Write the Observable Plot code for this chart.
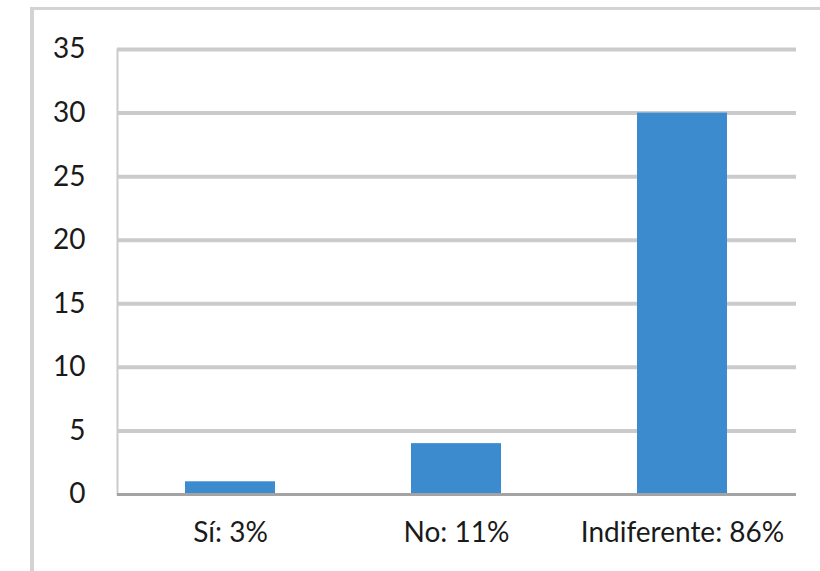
<!DOCTYPE html>
<html><head><meta charset="utf-8">
<script src="https://cdn.jsdelivr.net/npm/d3@7"></script>
<script src="https://cdn.jsdelivr.net/npm/@observablehq/plot@0.6"></script>
<style>
html,body{margin:0;padding:0;background:#fff;}
#wrap{position:relative;width:820px;height:571px;overflow:hidden;}
#frame{position:absolute;left:30px;top:7px;width:820px;height:600px;border-left:4px solid #d3d3d3;border-top:3px solid #d3d3d3;}
#chart{position:absolute;left:0;top:0;}
</style></head>
<body><div id="wrap"><div id="frame"></div><div id="chart"></div></div>
<script>
const categories = ["Sí: 3%", "No: 11%", "Indiferente: 86%"];
const values = [1, 4, 30];
const yTicks = [0, 5, 10, 15, 20, 25, 30, 35];

const data = categories.map((c, i) => ({category: c, value: values[i]}));

const chart = Plot.plot({
  width: 820,
  height: 571,
  marginLeft: 117,
  marginRight: 24,
  marginTop: 49,
  marginBottom: 77,
  style: {fontFamily: "Lato, sans-serif", fontSize: "28px", color: "#1a1a1a", background: "transparent"},
  x: {domain: categories, paddingInner: 0.6, paddingOuter: 0.3, label: null},
  y: {domain: [0, 35], label: null},
  marks: [
    Plot.ruleY(yTicks.filter(d => d > 0), {stroke: "#cbcbcb", strokeWidth: 4}),
    Plot.frame({anchor: "left", stroke: "#cbcbcb", strokeWidth: 2}),
    Plot.barY(data, {x: "category", y: "value", fill: "#3c8bcf"}),
    Plot.ruleY([0], {stroke: "#a3a3a3", strokeWidth: 3}),
    Plot.axisY({ticks: yTicks, tickSize: 0, tickPadding: 32, fontSize: 28, fill: "#1a1a1a"}),
    Plot.axisX({tickSize: 0, tickPadding: 28, fontSize: 28, fill: "#1a1a1a"})
  ]
});
document.getElementById("chart").appendChild(chart);
</script>
</body></html>
